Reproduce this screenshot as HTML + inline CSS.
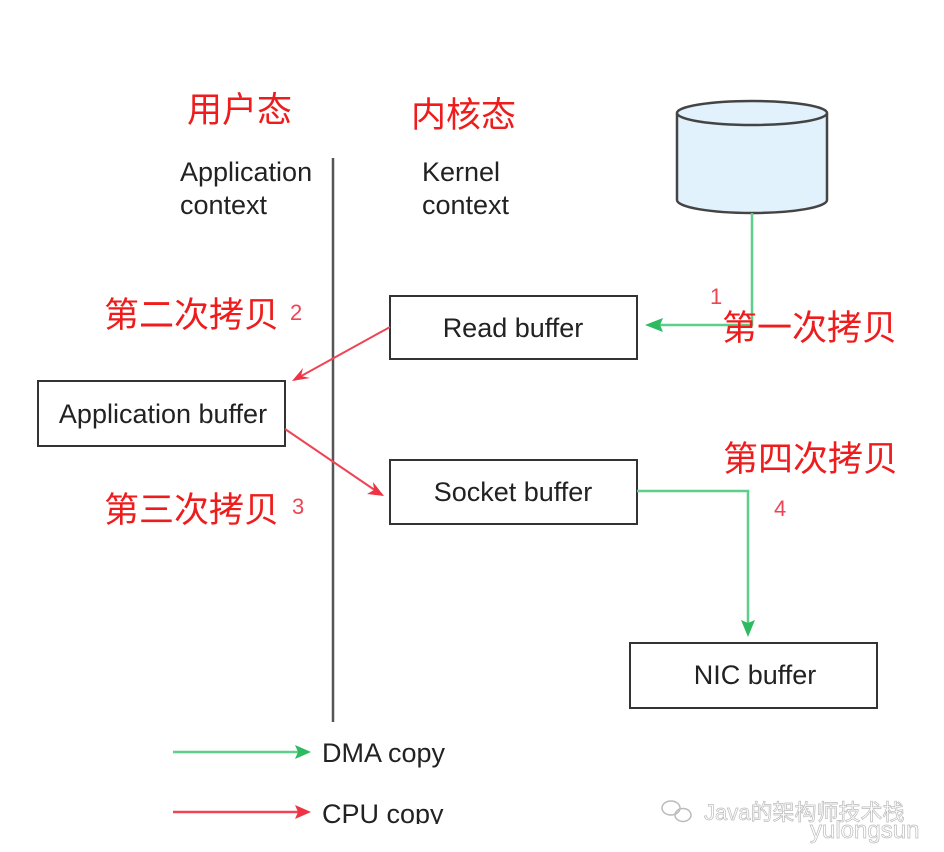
<!DOCTYPE html>
<html><head><meta charset="utf-8"><style>
html,body{margin:0;padding:0;background:#fff;}
svg{display:block;}
.cn{font-family:"Liberation Sans","Noto Sans CJK SC",sans-serif;fill:#ee1c1c;}
.en{font-family:"Liberation Sans",sans-serif;fill:#222;}
</style></head><body>
<svg width="944" height="852" viewBox="0 0 944 852" xmlns="http://www.w3.org/2000/svg">
<text class="cn" x="187" y="122" font-size="35">用户态</text>
<text class="cn" x="411" y="127" font-size="35">内核态</text>
<text class="en" x="180" y="181" font-size="27">Application</text>
<text class="en" x="180" y="214" font-size="27">context</text>
<text class="en" x="422" y="181" font-size="27">Kernel</text>
<text class="en" x="422" y="214" font-size="27">context</text>
<line x1="333" y1="158" x2="333" y2="722" stroke="#555" stroke-width="2.5"/>
<!-- cylinder -->
<path d="M677 113 L677 200 A75 13 0 0 0 827 200 L827 113" fill="#e2f2fc" stroke="#444" stroke-width="2.5"/>
<ellipse cx="752" cy="113" rx="75" ry="12" fill="#e2f2fc" stroke="#444" stroke-width="2.5"/>
<!-- green 1 -->
<polyline points="752,213 752,325 652,325" fill="none" stroke="#5ccf8a" stroke-width="2.5"/>
<polygon points="645,325 663,318 660,325 663,332" fill="#2dbb62"/>
<text class="cn" x="710" y="304" font-size="22" style="fill:#ee4455">1</text>
<text class="cn" x="722" y="340" font-size="35">第一次拷贝</text>
<!-- boxes -->
<rect x="390" y="296" width="247" height="63" fill="#fff" stroke="#333" stroke-width="2"/>
<text class="en" x="513" y="337" font-size="27" text-anchor="middle">Read buffer</text>
<rect x="38" y="381" width="247" height="65" fill="#fff" stroke="#333" stroke-width="2"/>
<text class="en" x="163" y="423" font-size="27" text-anchor="middle">Application buffer</text>
<rect x="390" y="460" width="247" height="64" fill="#fff" stroke="#333" stroke-width="2"/>
<text class="en" x="513" y="501" font-size="27" text-anchor="middle">Socket buffer</text>
<rect x="630" y="643" width="247" height="65" fill="#fff" stroke="#333" stroke-width="2"/>
<text class="en" x="755" y="684" font-size="27" text-anchor="middle">NIC buffer</text>
<!-- red arrows -->
<line x1="390" y1="327" x2="294" y2="380" stroke="#ee4455" stroke-width="2"/>
<polygon points="292,381 303,368 301,376 310,378" fill="#ee3344"/>
<line x1="285" y1="429" x2="382" y2="495" stroke="#ee4455" stroke-width="2"/>
<polygon points="384,496 367,494 374,490 373,482" fill="#ee3344"/>
<text class="cn" x="104" y="327" font-size="35">第二次拷贝</text>
<text class="cn" x="290" y="320" font-size="22" style="fill:#ee4455">2</text>
<text class="cn" x="104" y="522" font-size="35">第三次拷贝</text>
<text class="cn" x="292" y="514" font-size="22" style="fill:#ee4455">3</text>
<!-- green 4 -->
<polyline points="637,491 748,491 748,630" fill="none" stroke="#5ccf8a" stroke-width="2.5"/>
<polygon points="748,637 741,620 748,623 755,620" fill="#2dbb62"/>
<text class="cn" x="723" y="471" font-size="35">第四次拷贝</text>
<text class="cn" x="774" y="516" font-size="22" style="fill:#ee4455">4</text>
<!-- legend -->
<line x1="173" y1="752" x2="304" y2="752" stroke="#5ccf8a" stroke-width="2.5"/>
<polygon points="311,752 295,745 298,752 295,759" fill="#2dbb62"/>
<text class="en" x="322" y="762" font-size="27">DMA copy</text>
<line x1="173" y1="812" x2="304" y2="812" stroke="#ee4455" stroke-width="2.5"/>
<polygon points="311,812 295,805 298,812 295,819" fill="#ee3344"/>
<text class="en" x="322" y="823" font-size="27">CPU copy</text>
<rect x="0" y="824" width="944" height="28" fill="#fff"/>
<!-- watermark -->
<g fill="none" stroke="#bbb" stroke-width="1.5">
<ellipse cx="671" cy="808" rx="9" ry="7"/>
<ellipse cx="683" cy="815" rx="8" ry="6.5"/>
</g>
<text x="704" y="820" font-size="22" fill="#fff" stroke="#bbb" stroke-width="0.7" font-family="Liberation Sans,Noto Sans CJK SC,sans-serif">Java的架构师技术栈</text>
<text x="810" y="838" font-size="24" fill="#fff" stroke="#bbb" stroke-width="0.7" font-family="Liberation Sans,sans-serif">yulongsun</text>
</svg>
</body></html>
